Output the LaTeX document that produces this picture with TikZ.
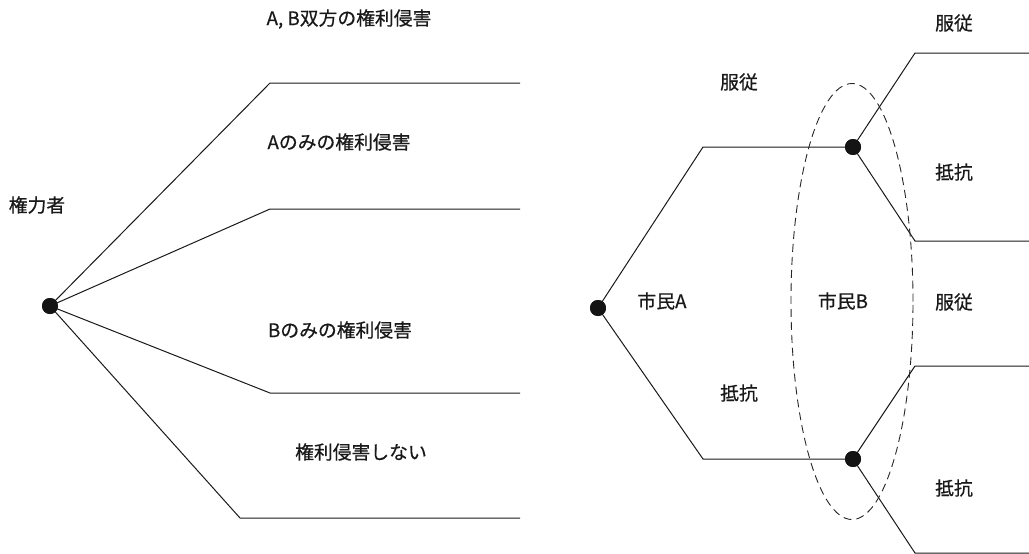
\documentclass[tikz,border=0pt]{standalone}
\usepackage{fontspec}
\setmainfont{Noto Sans CJK JP}
\newfontfamily\jpf[FakeBold=0.6]{Noto Sans CJK JP}
\begin{document}
\begin{tikzpicture}[x=1pt,y=-1pt,
  edge/.style={draw=black!90,line width=1pt},
  dot/.style={circle,fill=black!92,inner sep=0pt,minimum size=16pt},
  lbl/.style={font=\jpf\fontsize{18.8}{22}\selectfont,text=black!90,inner sep=0pt}]
\useasboundingbox (0,0) rectangle (1029,554);
% left tree
\node[dot] (L0) at (50,306) {};
\coordinate (L1b) at (270,83);  \coordinate (L1e) at (520,83);
\coordinate (L2b) at (270,209); \coordinate (L2e) at (520,209);
\coordinate (L3b) at (270,393); \coordinate (L3e) at (520,393);
\coordinate (L4b) at (240,518); \coordinate (L4e) at (520,518);
\draw[edge] (L0.center) -- (L1b) -- (L1e);
\draw[edge] (L0.center) -- (L2b) -- (L2e);
\draw[edge] (L0.center) -- (L3b) -- (L3e);
\draw[edge] (L0.center) -- (L4b) -- (L4e);
\node[dot] at (L0) {};
\node[lbl] (t1) at (349,19) {A, B双方の権利侵害};
\node[lbl] (t2) at (339,142) {Aのみの権利侵害};
\node[lbl] (t0) at (37,205) {権力者};
\node[lbl] (t3) at (340,330) {Bのみの権利侵害};
\node[lbl] (t4) at (361,452) {権利侵害しない};
% right tree
\node[dot] (R0) at (598,308) {};
\node[dot] (RU) at (853,147) {};
\node[dot] (RD) at (853,459) {};
\coordinate (RUb) at (703,147);
\coordinate (RDb) at (703,459);
\coordinate (U1b) at (915,53);  \coordinate (U1e) at (1029,53);
\coordinate (U2b) at (915,241); \coordinate (U2e) at (1029,241);
\coordinate (D1b) at (915,366); \coordinate (D1e) at (1029,366);
\coordinate (D2b) at (915,553); \coordinate (D2e) at (1029,553);
\draw[edge] (R0.center) -- (RUb) -- (RU.center);
\draw[edge] (R0.center) -- (RDb) -- (RD.center);
\draw[edge] (RU.center) -- (U1b) -- (U1e);
\draw[edge] (RU.center) -- (U2b) -- (U2e);
\draw[edge] (RD.center) -- (D1b) -- (D1e);
\draw[edge] (RD.center) -- (D2b) -- (D2e);
\node[dot] at (R0) {};
\node[dot] at (RU) {};
\node[dot] at (RD) {};
\draw[draw=black!85,line width=0.9pt,dash pattern=on 8pt off 5pt] (852,301.5) ellipse [x radius=61pt, y radius=218pt];
\node[lbl] (s1) at (954,23) {服従};
\node[lbl] (s2) at (739,82) {服従};
\node[lbl] (s3) at (954,172) {抵抗};
\node[lbl] (s4) at (662,301) {市民A};
\node[lbl] (s5) at (843,301) {市民B};
\node[lbl] (s6) at (954,302) {服従};
\node[lbl] (s7) at (739,393) {抵抗};
\node[lbl] (s8) at (954,488) {抵抗};
\end{tikzpicture}
\end{document}
